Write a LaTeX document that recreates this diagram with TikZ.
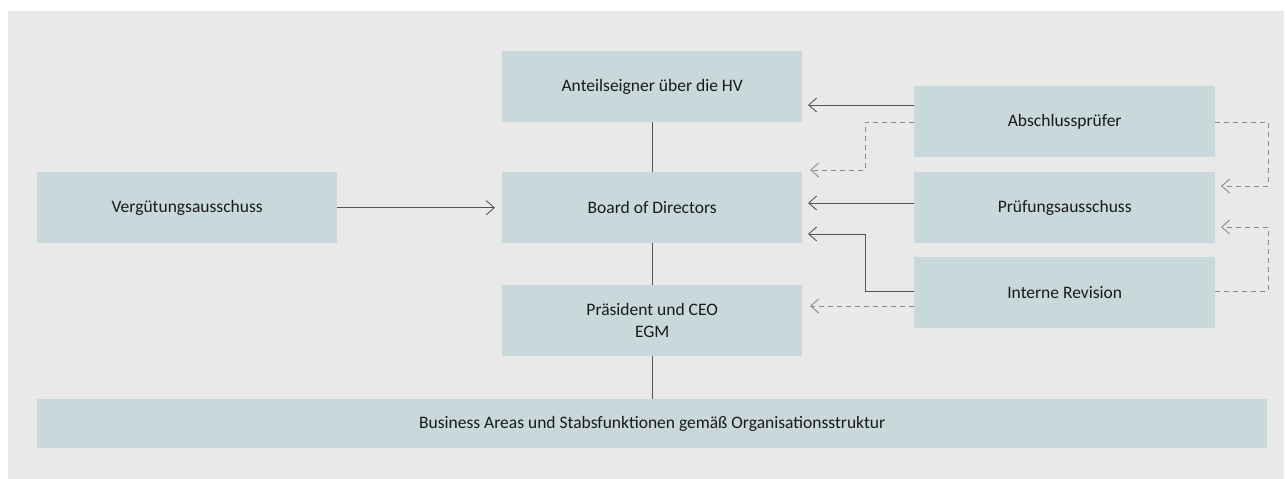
\documentclass[tikz,border=0pt]{standalone}
\usepackage{fontspec}
\setmainfont{Carlito}
\usetikzlibrary{arrows.meta}
\definecolor{bgc}{HTML}{E9E9E9}
\definecolor{boxc}{HTML}{C8D8DB}
\definecolor{linec}{HTML}{555555}
\definecolor{dashc}{HTML}{8A8A8A}
\definecolor{txtc}{HTML}{1A1A1A}
\tikzset{
  orgbox/.style={fill=boxc, draw=none, text=txtc, anchor=north west, inner sep=0pt, align=center, font=\fontsize{17.5}{22.3}\selectfont},
  solidcon/.style={draw=linec, line width=0.9pt, -{Straight Barb[length=8pt,width=14pt,line width=0.9pt]}},
  plaincon/.style={draw=linec, line width=0.9pt},
  dashcon/.style={draw=dashc, line width=0.9pt, dash pattern=on 5pt off 4pt, -{Straight Barb[length=8pt,width=14pt,line width=0.9pt]}},
}
\begin{document}
\begin{tikzpicture}[x=1pt,y=-1pt]
\useasboundingbox (0,0) rectangle (1285,479);
\fill[bgc] (8,11) rectangle (1284,479);
\node[orgbox, minimum width=300pt, minimum height=71pt] (hv) at (502,51) {Anteilseigner über die HV};
\node[orgbox, minimum width=300pt, minimum height=71pt] (bod) at (502,172) {Board of Directors};
\node[orgbox, minimum width=300pt, minimum height=71pt] (ceo) at (502,285) {Präsident und CEO\\EGM};
\node[orgbox, minimum width=300pt, minimum height=71pt] (verg) at (37,172) {Vergütungsausschuss};
\node[orgbox, minimum width=301pt, minimum height=71pt] (ap) at (914,86) {Abschlussprüfer};
\node[orgbox, minimum width=301pt, minimum height=71pt] (pa) at (914,172) {Prüfungsausschuss};
\node[orgbox, minimum width=301pt, minimum height=71pt] (ir) at (914,257) {Interne Revision};
\node[orgbox, minimum width=1230pt, minimum height=49pt] (ba) at (37,399) {Business Areas und Stabsfunktionen gemäß Organisationsstruktur};
% vertical lines
\draw[plaincon] (hv.south) -- (bod.north);
\draw[plaincon] (bod.south) -- (ceo.north);
\draw[plaincon] (ceo.south) -- (ceo.south |- ba.north);
% Vergütung -> Board
\draw[solidcon] (verg.east) -- ([xshift=-7pt]bod.west);
% Abschlussprüfer
\draw[solidcon] (ap.west |- 0,105) -- (808,105);
\draw[dashcon] (ap.west |- 0,122) -- (865,122) -- (865,170) -- (810,170);
% Prüfungsausschuss
\draw[solidcon] (pa.west |- 0,203) -- (808,203);
% Interne Revision
\draw[solidcon] (ir.west |- 0,291) -- (865,291) -- (865,234) -- (808,234);
\draw[dashcon] (ir.west |- 0,306) -- (810,306);
% right dashed loops
\draw[dashcon] (ap.east |- 0,122) -- (1268,122) -- (1268,186) -- (1221,186);
\draw[dashcon] (ir.east |- 0,291) -- (1268,291) -- (1268,227) -- (1221,227);
\end{tikzpicture}
\end{document}
